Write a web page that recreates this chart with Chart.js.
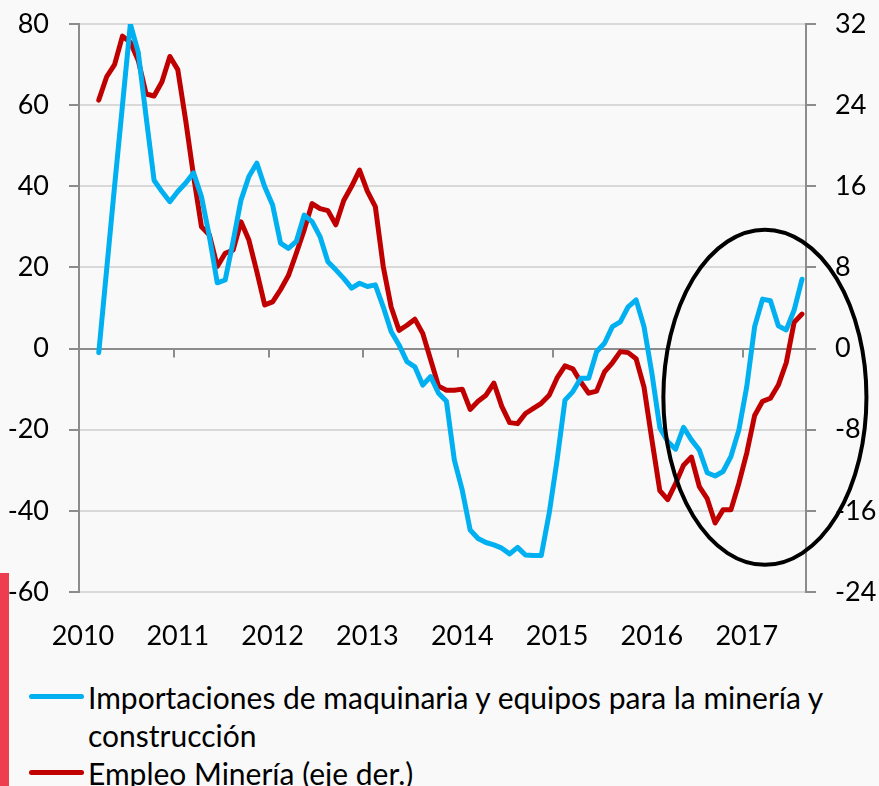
<!DOCTYPE html>
<html>
<head>
<meta charset="utf-8">
<script src="https://cdn.jsdelivr.net/npm/chart.js@4.4.0/dist/chart.umd.min.js"></script>
<style>
  body { margin: 0; background: #f9f9f9; font-family: Lato, sans-serif; }
  #wrap { position: relative; width: 879px; height: 786px; overflow: hidden; }
  #edge { position: absolute; left: 0; top: 573px; width: 9px; height: 213px; background: #ee3d4e; }
  #legend { position: absolute; left: 0; top: 678px; width: 879px; font-size: 30px; line-height: 38px; color: #000; }
  .item { position: relative; padding-left: 88px; width: 760px; }
  .swatch { position: absolute; left: 29px; top: 16px; width: 55px; height: 5px; border-radius: 3px; }
</style>
</head>
<body>
<div id="wrap">
  <canvas id="chart" width="879" height="660"></canvas>
  <div id="legend"></div>
  <div id="edge"></div>
</div>
<script>
// years on the axis, monthly data Jan 2010 - Aug 2017
const years = ["2010", "2011", "2012", "2013", "2014", "2015", "2016", "2017"];
const monthsInLastYear = 8;

// Importaciones de maquinaria y equipos (eje izq.)
const imports = [null, null, -1, 19.5, 40, 60, 80, 73, 57, 41.5, 38.7, 36.2,
  38.7, 40.8, 43.3, 37.4, 27.6, 16.2, 16.9, 26.4, 36.6, 42.4, 45.7, 39.9,
  35.4, 26, 24.7, 26.4, 32.9, 31.3, 27.6, 21.4, 19.4, 17.3, 14.9, 16.1,
  15.3, 15.7, 10.3, 4.2, 0.9, -3.2, -4.5, -9, -6.9, -11, -13, -27.5,
  -34.9, -44.7, -46.8, -47.8, -48.4, -49.2, -50.6, -49, -50.9, -51, -51, -40.6,
  -27.5, -12.7, -10.6, -7.3, -7.3, -0.8, 1.3, 5.4, 6.6, 10.3, 12, 5.4,
  -6.1, -19.5, -22.9, -24.8, -19.4, -22.5, -25, -30.6, -31.4, -30.3, -26.6, -20.1,
  -9.4, 5.4, 12.2, 11.8, 5.6, 4.6, 9.5, 17.1];

// Empleo Minería (eje der.)
const employment = [null, null, 24.5, 26.8, 28.0, 30.8, 30.2, 28.4, 25.1, 24.9, 26.3, 28.8,
  27.5, 22.5, 17.0, 12.0, 11.2, 8.1, 9.4, 9.7, 12.5, 10.7, 7.6, 4.3,
  4.6, 5.8, 7.2, 9.4, 11.7, 14.3, 13.8, 13.6, 12.2, 14.6, 16.0, 17.6,
  15.5, 14.0, 8.1, 4.1, 1.8, 2.3, 2.9, 1.5, -1.1, -3.7, -4.1, -4.1,
  -4.0, -6.0, -5.2, -4.6, -3.4, -5.7, -7.3, -7.4, -6.4, -5.9, -5.4, -4.6,
  -2.9, -1.7, -2.0, -3.3, -4.4, -4.2, -2.3, -1.4, -0.3, -0.4, -1.0, -3.8,
  -9.0, -14.0, -14.9, -13.3, -11.5, -10.7, -13.6, -14.8, -17.2, -15.9, -15.9, -13.3,
  -10.3, -6.6, -5.2, -4.9, -3.6, -1.4, 2.6, 3.4];

const seriesNames = ["Importaciones de maquinaria y equipos para la minería y construcción", "Empleo Minería (eje der.)"];
const seriesColors = ["#00b0f0", "#c00000"];

// circled area: centre (month index, left-axis value) and radii
const circle = { month: 86.3, value: -12, monthRadius: 12.85, valueRadius: 41.3 };

const months = [];
years.forEach((y, k) => {
  const n = k === years.length - 1 ? monthsInLastYear : 12;
  for (let m = 1; m <= n; m++) months.push(y + "-" + m);
});

Chart.defaults.font.family = "Lato";
Chart.defaults.color = "#000";

const axisGray = "#8c8c8c";
const gridGray = "#d9d9d9";

// keep the y-axis label padding from pushing the plot area down
const fixSide = width => s => {
  s.width = width;
  s.paddingTop = 12;
  s.paddingBottom = 12;
};

const extras = {
  id: "extras",
  beforeDatasetsDraw(chart) {
    // year tick marks hanging below the zero line
    const { ctx, scales: { x, y } } = chart;
    const y0 = y.getPixelForValue(0);
    ctx.save();
    ctx.strokeStyle = axisGray;
    ctx.lineWidth = 2;
    for (let i = 12; i < months.length; i += 12) {
      const px = Math.round(x.getPixelForValue(i - 0.5));
      ctx.beginPath();
      ctx.moveTo(px, y0);
      ctx.lineTo(px, y0 + 9);
      ctx.stroke();
    }
    ctx.restore();
  },
  afterDatasetsDraw(chart) {
    const { ctx, scales: { x, y } } = chart;
    const cx = x.getPixelForValue(circle.month);
    const cy = y.getPixelForValue(circle.value);
    const rx = x.getPixelForValue(circle.month + circle.monthRadius) - cx;
    const ry = y.getPixelForValue(circle.value - circle.valueRadius) - cy;
    ctx.save();
    ctx.strokeStyle = "#000";
    ctx.lineWidth = 4;
    ctx.beginPath();
    ctx.ellipse(cx, cy, rx, ry, 0, 0, Math.PI * 2);
    ctx.stroke();
    ctx.restore();
  }
};

new Chart(document.getElementById("chart"), {
  type: "line",
  data: {
    labels: months,
    datasets: [
      {
        label: seriesNames[0],
        data: imports,
        borderColor: seriesColors[0],
        backgroundColor: seriesColors[0],
        borderWidth: 5,
        pointRadius: 0,
        tension: 0,
        borderJoinStyle: "round",
        borderCapStyle: "round",
        yAxisID: "y"
      },
      {
        label: seriesNames[1],
        data: employment,
        borderColor: seriesColors[1],
        backgroundColor: seriesColors[1],
        borderWidth: 5,
        pointRadius: 0,
        tension: 0,
        borderJoinStyle: "round",
        borderCapStyle: "round",
        yAxisID: "y1"
      }
    ]
  },
  options: {
    responsive: false,
    animation: false,
    layout: { padding: { top: 24, left: 0, right: 0, bottom: 0 } },
    plugins: { legend: { display: false }, tooltip: { enabled: false } },
    scales: {
      x: {
        type: "category",
        offset: true,
        grid: { display: false },
        border: { display: false },
        ticks: {
          autoSkip: false,
          maxRotation: 0,
          padding: 20,
          font: { size: 27 },
          callback: (v, i) => (i % 12 === 0 ? years[i / 12] : "")
        },
        afterFit: s => { s.height = 68; }
      },
      y: {
        position: "left",
        min: -60,
        max: 80,
        ticks: { stepSize: 20, padding: 20, font: { size: 27 } },
        grid: {
          color: c => (c.tick && c.tick.value === 0 ? axisGray : gridGray),
          lineWidth: 2,
          tickColor: axisGray,
          tickLength: 10
        },
        border: { color: axisGray, width: 2 },
        afterFit: fixSide(79)
      },
      y1: {
        position: "right",
        min: -24,
        max: 32,
        ticks: { stepSize: 8, padding: 19, font: { size: 27 } },
        grid: { drawOnChartArea: false, color: axisGray, tickColor: axisGray, tickLength: 10, lineWidth: 2 },
        border: { color: axisGray, width: 2 },
        afterFit: fixSide(73)
      }
    }
  },
  plugins: [extras]
});

// legend under the chart
const legend = document.getElementById("legend");
seriesNames.forEach((name, k) => {
  const item = document.createElement("div");
  item.className = "item";
  const sw = document.createElement("span");
  sw.className = "swatch";
  sw.style.background = seriesColors[k];
  item.appendChild(sw);
  item.appendChild(document.createTextNode(name));
  legend.appendChild(item);
});
</script>
</body>
</html>
